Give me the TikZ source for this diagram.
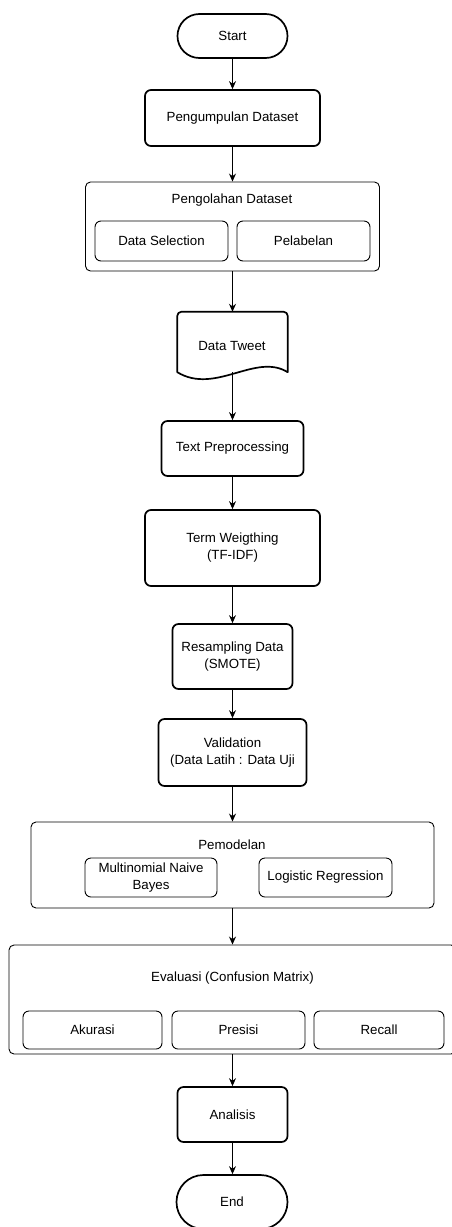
\documentclass[tikz,border=0pt]{standalone}
\usepackage{fontspec}
\setmainfont{Liberation Sans}
\usetikzlibrary{arrows.meta}
\begin{document}
\begin{tikzpicture}[x=1pt,y=-1pt,
  every node/.style={font=\fontsize{13.3}{17}\selectfont, inner sep=0pt, align=center},
  stepbox/.style={draw, line width=1.7pt, rounded corners=6pt},
  termbox/.style={draw, line width=1.7pt},
  groupbox/.style={draw, line width=0.9pt, rounded corners=5pt},
  innerbox/.style={draw, line width=0.9pt, rounded corners=6pt},
  flow/.style={-{Stealth[length=8pt,width=7pt]}, line width=1pt}]
\useasboundingbox (0,0) rectangle (451,1227);

% terminals
\node[termbox, rounded corners=21.9pt, minimum width=110pt, minimum height=44pt] (start) at (232.5,36) {Start};
\node[termbox, rounded corners=26.9pt, minimum width=111pt, minimum height=54pt] (end) at (232,1202) {End};

% data collection
\node[stepbox, minimum width=175pt, minimum height=56pt] (collect) at (232.5,118) {Pengumpulan Dataset};

% dataset processing group
\node[groupbox, minimum width=294pt, minimum height=89pt] (prep) at (232.5,226.5) {};
\node (preptitle) at (232,200) {Pengolahan Dataset};
\node[innerbox, minimum width=133pt, minimum height=40pt] (select) at (161.5,241) {Data Selection};
\node[innerbox, minimum width=133pt, minimum height=40pt] (labeling) at (303.5,241) {Pelabelan};

% document shape
\node[minimum width=110pt, minimum height=60pt] (tweet) at (232.5,342) {};
\draw[line width=1.7pt, line join=round]
  (tweet.south west) [rounded corners=4pt] -- (tweet.north west) -- (tweet.north east) [sharp corners] -- (tweet.south east)
  .. controls +(-32,-20) and +(38,23) .. (tweet.south west) -- cycle;
\node (tweettext) at (232,346) {Data Tweet};

% pipeline steps
\node[stepbox, minimum width=142pt, minimum height=55pt] (textpre) at (232.5,448.5) {Text Preprocessing};
\node[stepbox, minimum width=175pt, minimum height=76pt] (tfidf) at (232.5,548) {Term Weigthing\\(TF-IDF)};
\node[stepbox, minimum width=120pt, minimum height=65pt] (smote) at (232.5,656.5) {Resampling Data\\(SMOTE)};
\node[stepbox, minimum width=148pt, minimum height=67pt] (valid) at (232.5,752.5) {Validation\\(Data Latih : Data Uji};

% modelling group
\node[groupbox, minimum width=403pt, minimum height=86pt] (model) at (232.5,865) {};
\node (modeltitle) at (232,845) {Pemodelan};
\node[innerbox, minimum width=132pt, minimum height=39pt] (mnb) at (151,877.5) {Multinomial Naive\\Bayes};
\node[innerbox, minimum width=133pt, minimum height=39pt] (lr) at (325.5,877.5) {Logistic Regression};

% evaluation group
\node[groupbox, minimum width=447pt, minimum height=109pt] (eval) at (232.5,999.5) {};
\node (evaltitle) at (232.5,978) {Evaluasi (Confusion Matrix)};
\node[innerbox, minimum width=139pt, minimum height=38pt] (acc) at (92.5,1030) {Akurasi};
\node[innerbox, minimum width=133pt, minimum height=38pt] (prec) at (238.5,1030) {Presisi};
\node[innerbox, minimum width=130pt, minimum height=38pt] (rec) at (379,1030) {Recall};

% final step
\node[stepbox, minimum width=110pt, minimum height=55pt] (analysis) at (232.5,1114.5) {Analisis};

% connectors
\draw[flow] (start.south) -- (start.south |- collect.north);
\draw[flow] (collect.south) -- (collect.south |- prep.north);
\draw[flow] (prep.south) -- (prep.south |- tweet.north);
\draw[flow] (tweet.south) -- (tweet.south |- textpre.north);
\draw[flow] (textpre.south) -- (textpre.south |- tfidf.north);
\draw[flow] (tfidf.south) -- (tfidf.south |- smote.north);
\draw[flow] (smote.south) -- (smote.south |- valid.north);
\draw[flow] (valid.south) -- (valid.south |- model.north);
\draw[flow] (model.south) -- (model.south |- eval.north);
\draw[flow] (eval.south) -- (eval.south |- analysis.north);
\draw[flow] (analysis.south) -- (analysis.south |- end.north);
\end{tikzpicture}
\end{document}
